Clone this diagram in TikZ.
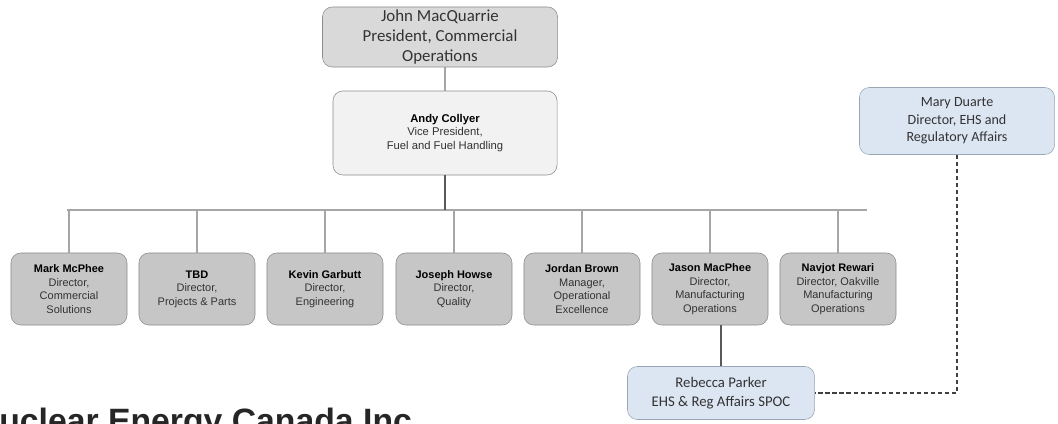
\documentclass[tikz,border=0pt]{standalone}
\usepackage{fontspec}
\setmainfont{Carlito}
\newfontfamily\arialfont{Liberation Sans}
\usetikzlibrary{positioning}

\definecolor{boxline}{HTML}{8C8C8C}
\definecolor{darkfill}{HTML}{C6C6C6}
\definecolor{midfill}{HTML}{D9D9D9}
\definecolor{palefill}{HTML}{F2F2F2}
\definecolor{bluefill}{HTML}{DCE6F2}
\definecolor{blueline}{HTML}{98A6B6}
\definecolor{linkgray}{HTML}{A6A6A6}
\definecolor{inkgray}{HTML}{333333}

\tikzset{
  orgbox/.style={draw=boxline, rounded corners=7pt, align=center, inner sep=1pt,
    text=inkgray},
  staffbox/.style={orgbox, fill=darkfill, minimum width=2.9cm, minimum height=1.8cm,
    font=\arialfont\fontsize{7.8}{9.6}\selectfont},
  advisorbox/.style={orgbox, fill=bluefill, draw=blueline},
  link/.style={linkgray, line width=0.9pt},
  solidlink/.style={draw=black!65, line width=1.3pt},
  dotlink/.style={draw=black!75, line width=1.3pt, dash pattern=on 3pt off 2pt}
}

\begin{document}
\begin{tikzpicture}[x=0.025cm, y=-0.025cm]

  \useasboundingbox (0,0) rectangle (1058,423);
  \clip (0,0) rectangle (1058,423);

  % top of the chart
  \node[orgbox, fill=midfill, minimum width=5.875cm, minimum height=1.5cm,
    font=\fontsize{12}{14.2}\selectfont] (john) at (440,37)
    {John MacQuarrie\\President, Commercial\\Operations};

  \node[orgbox, fill=palefill, minimum width=5.6cm, minimum height=2.1cm,
    font=\arialfont\fontsize{8}{9.6}\selectfont] (andy) at (445,133)
    {\textbf{\color{black}Andy Collyer}\\Vice President,\\Fuel and Fuel Handling};

  % directors row
  \node[staffbox] (mark)    at (69,289)  {\textbf{\color{black}Mark McPhee}\\Director,\\Commercial\\Solutions};
  \node[staffbox] (tbd)     at (197,289) {\textbf{\color{black}TBD}\\Director,\\Projects \& Parts};
  \node[staffbox] (kevin)   at (325,289) {\textbf{\color{black}Kevin Garbutt}\\Director,\\Engineering};
  \node[staffbox] (joseph)  at (454,289) {\textbf{\color{black}Joseph Howse}\\Director,\\Quality};
  \node[staffbox] (jordan)  at (582,289) {\textbf{\color{black}Jordan Brown}\\Manager,\\Operational\\Excellence};
  \node[staffbox] (jason)   at (710,289) {\textbf{\color{black}Jason MacPhee}\\Director,\\Manufacturing\\Operations};
  \node[staffbox] (navjot)  at (838,289) {\textbf{\color{black}Navjot Rewari}\\Director, Oakville\\Manufacturing\\Operations};

  % EHS side
  \node[advisorbox, minimum width=4.875cm, minimum height=1.675cm,
    font=\fontsize{10}{12.4}\selectfont] (mary) at (957,121)
    {Mary Duarte\\Director, EHS and\\Regulatory Affairs};
  \node[advisorbox, minimum width=4.675cm, minimum height=1.325cm,
    font=\fontsize{10.5}{14}\selectfont] (rebecca) at (721,393)
    {Rebecca Parker\\EHS \& Reg Affairs SPOC};

  % reporting lines
  \draw[link] (andy.north |- john.south) to (andy.north);
  \coordinate (busL) at (67,210);
  \coordinate (busR) at (867,210);
  \draw[link] (busL) to (busR);
  \draw[solidlink] (andy.south) to (andy.south |- busL);
  \foreach \who in {mark, tbd, kevin, joseph, jordan, jason, navjot}
    \draw[link] (busL -| \who.north) to (\who.north);

  \draw[solidlink] (rebecca.north |- jason.south) to (rebecca.north);
  \draw[dotlink] (mary.south) |- (rebecca.east);

  % company name, cut by the page edge
  \node[anchor=base west, inner sep=0pt, text=black!85,
    font=\arialfont\bfseries\fontsize{24}{26}\selectfont] (company) at (-1,432)
    {uclear Energy Canada Inc};

\end{tikzpicture}
\end{document}
